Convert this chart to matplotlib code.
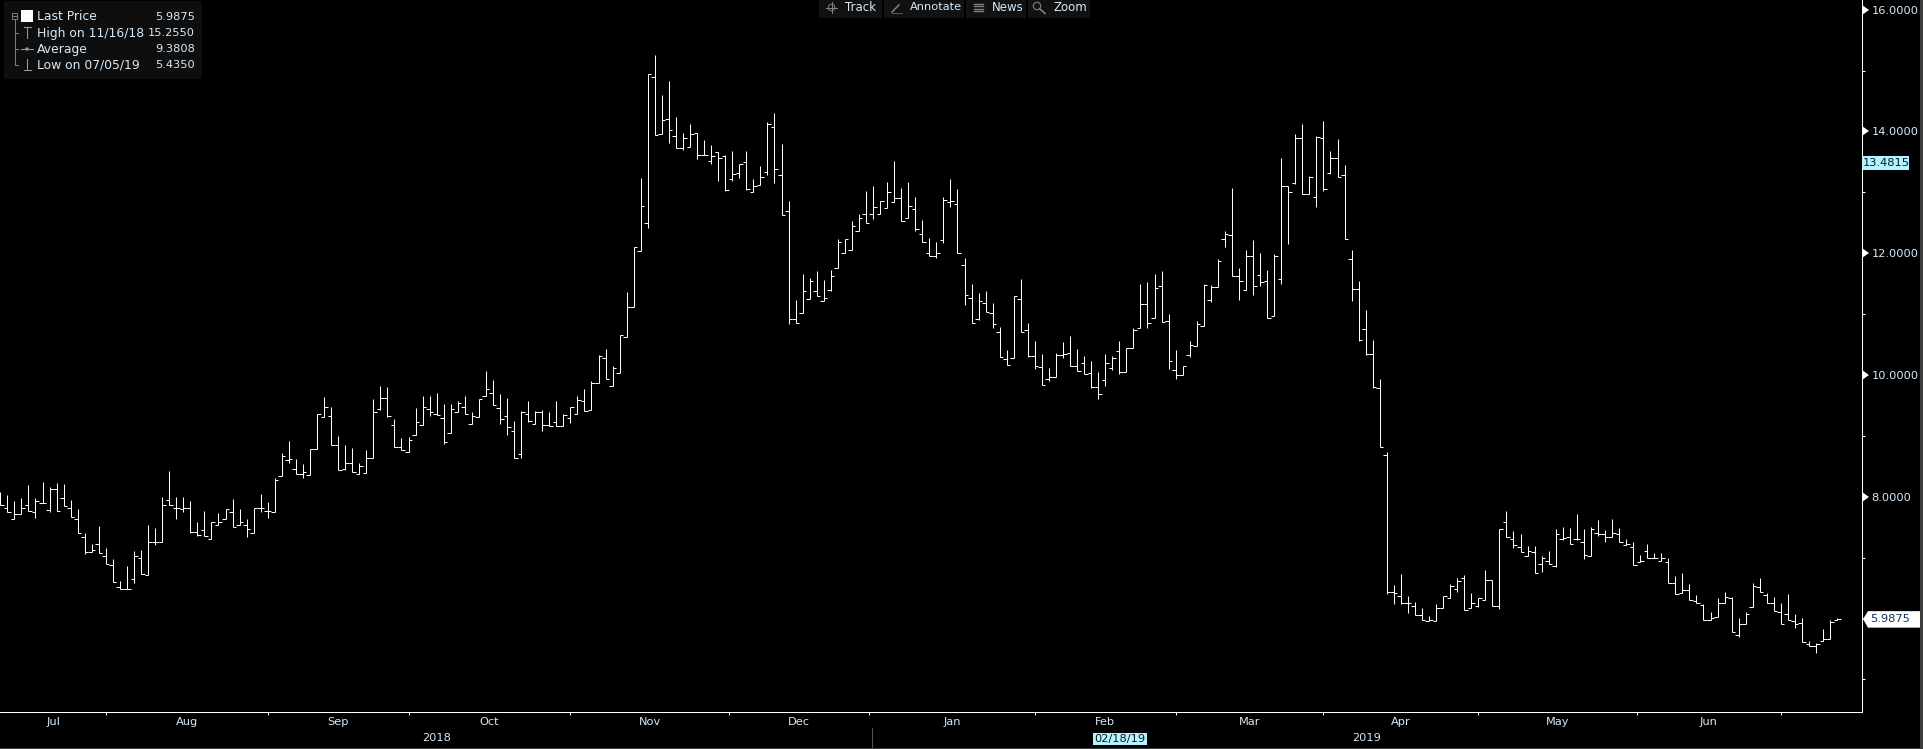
import matplotlib
matplotlib.use("Agg")
import matplotlib.pyplot as plt
import matplotlib.transforms as mtrans
from matplotlib.collections import LineCollection
from matplotlib.lines import Line2D
from matplotlib.patches import Polygon, Rectangle, FancyBboxPatch, Circle

# ---------- data ----------
highs = [8.07,8.03,7.93,7.98,8.19,7.98,8.24,8.15,8.22,8.21,7.95,7.79,7.40,7.23,7.52,7.15,6.97,6.62,6.86,7.10,
7.13,7.53,7.48,7.99,8.42,7.99,7.99,7.92,7.58,7.76,7.59,7.73,7.79,7.96,7.80,7.64,7.82,8.04,7.91,8.31,
8.71,8.91,8.61,8.54,8.79,9.36,9.64,9.47,8.99,8.85,8.80,8.55,8.77,9.60,9.82,9.80,9.27,8.96,8.98,9.46,
9.65,9.65,9.70,9.52,9.52,9.57,9.65,9.39,9.60,10.06,9.91,9.69,9.62,9.24,9.40,9.57,9.40,9.42,9.39,9.57,
9.35,9.48,9.65,9.77,9.90,10.32,10.42,10.15,10.65,11.36,12.10,13.24,14.94,15.255,14.60,14.83,14.24,13.97,14.12,13.97,
13.86,13.77,13.66,13.62,13.68,13.47,13.68,13.21,13.43,14.15,14.30,13.79,12.86,11.23,11.66,11.59,11.71,11.56,11.72,12.24,
12.23,12.52,12.64,13.02,13.10,12.86,13.17,13.51,13.07,13.17,12.92,12.54,12.25,12.18,12.92,13.22,13.05,11.92,11.50,11.35,
11.38,11.18,10.79,10.41,11.29,11.57,10.85,10.56,10.34,10.11,10.36,10.54,10.64,10.43,10.31,10.23,10.05,10.34,10.31,10.56,
10.44,10.77,11.49,11.53,11.65,11.71,11.00,10.41,10.14,10.56,10.88,11.49,11.47,11.91,12.36,13.07,11.75,12.05,12.22,12.00,
11.72,11.98,13.56,13.11,13.96,14.12,13.26,13.92,14.17,13.68,13.87,13.45,12.05,11.55,11.07,10.57,9.94,8.73,6.55,6.73,
6.37,6.27,6.17,6.04,6.24,6.36,6.56,6.66,6.71,6.41,6.33,6.80,6.63,7.46,7.76,7.44,7.39,7.19,7.19,7.02,
7.11,7.46,7.50,7.49,7.71,7.47,7.50,7.62,7.45,7.63,7.49,7.30,7.25,7.04,7.22,7.07,7.07,6.99,6.69,6.74,
6.56,6.38,6.23,6.10,6.33,6.43,6.35,6.01,6.10,6.58,6.66,6.41,6.35,6.25,6.40,6.07,6.00,5.63,5.60,5.82,
5.97,6.00]
lows = [7.86,7.74,7.64,7.71,7.77,7.65,7.89,7.74,7.77,7.85,7.66,7.41,7.05,7.09,7.07,6.89,6.59,6.49,6.49,6.58,
6.73,6.71,7.20,7.25,7.86,7.63,7.75,7.41,7.36,7.36,7.30,7.53,7.63,7.50,7.53,7.34,7.41,7.74,7.65,7.75,
8.34,8.56,8.37,8.30,8.35,8.78,9.30,8.85,8.43,8.44,8.41,8.37,8.38,8.63,9.42,9.30,8.82,8.76,8.74,9.01,
9.17,9.32,9.34,8.87,9.04,9.39,9.35,9.20,9.30,9.66,9.50,9.20,9.02,8.63,8.64,9.22,9.19,9.07,9.16,9.16,
9.16,9.21,9.35,9.40,9.42,9.86,9.93,9.81,10.03,10.62,11.11,12.03,12.41,13.94,13.95,13.81,13.72,13.69,13.74,13.54,
13.61,13.47,13.19,13.02,13.19,13.24,13.04,13.00,13.12,13.29,13.15,12.62,10.84,10.86,11.01,11.24,11.29,11.21,11.37,11.75,
12.01,12.05,12.36,12.49,12.56,12.64,12.74,12.84,12.52,12.57,12.37,12.18,11.95,11.92,12.17,12.75,12.01,11.14,10.86,10.90,
11.04,10.77,10.30,10.16,10.27,10.71,10.30,10.10,9.83,9.90,9.96,10.28,10.14,10.07,10.01,9.78,9.61,9.81,10.08,10.02,
10.04,10.44,10.77,10.77,10.94,10.87,10.10,9.93,10.00,10.30,10.47,10.81,11.19,11.44,12.10,11.62,11.23,11.39,11.31,11.46,
10.94,10.96,11.49,12.15,13.13,12.97,12.97,12.76,13.02,13.30,13.25,12.23,11.22,10.55,10.32,9.78,8.81,6.40,6.24,6.23,
6.09,6.05,5.98,5.95,5.95,6.17,6.33,6.43,6.13,6.17,6.19,6.30,6.21,6.16,7.33,7.16,7.09,7.02,6.74,6.77,
6.89,6.85,7.29,7.22,7.28,6.97,7.02,7.35,7.25,7.33,7.25,7.20,6.87,6.93,6.99,6.99,6.94,6.58,6.40,6.42,
6.30,6.26,5.98,5.98,6.03,6.25,5.77,5.70,5.90,6.18,6.43,6.25,6.12,5.90,5.97,5.84,5.61,5.55,5.435,5.63,
5.66,5.98]
opens = [7.99,7.82,7.64,7.71,7.87,7.75,7.89,7.78,8.13,7.97,7.81,7.63,7.33,7.09,7.23,7.03,6.87,6.51,6.49,6.64,
6.99,6.71,7.25,7.25,7.94,7.82,7.79,7.82,7.42,7.45,7.30,7.53,7.63,7.75,7.53,7.53,7.41,7.82,7.77,7.75,
8.34,8.60,8.45,8.37,8.35,8.78,9.30,9.32,8.84,8.45,8.55,8.37,8.38,8.63,9.44,9.62,9.17,8.82,8.74,9.01,
9.17,9.44,9.35,9.29,9.04,9.39,9.47,9.20,9.30,9.66,9.71,9.45,9.32,9.07,8.70,9.35,9.19,9.39,9.17,9.22,
9.16,9.29,9.35,9.57,9.42,9.86,10.27,9.81,10.03,10.62,11.11,12.03,12.49,14.90,13.95,14.21,13.92,13.72,13.74,13.97,
13.62,13.52,13.66,13.59,13.21,13.31,13.49,13.00,13.12,13.34,14.08,13.28,12.69,10.91,11.01,11.24,11.37,11.21,11.39,11.75,
12.01,12.05,12.36,12.65,12.65,12.64,12.74,12.84,12.90,12.57,12.72,12.31,12.01,11.95,12.21,12.84,12.80,11.80,11.27,10.92,
11.18,11.01,10.70,10.26,10.27,11.24,10.73,10.31,10.13,9.94,9.96,10.32,10.36,10.14,10.19,10.03,9.80,9.91,10.11,10.39,
10.04,10.44,10.77,11.16,10.94,11.46,10.88,10.08,10.00,10.33,10.47,10.81,11.23,11.44,12.23,12.29,11.62,11.39,11.95,11.64,
11.55,10.96,11.57,13.11,13.15,13.89,12.97,12.92,13.89,13.31,13.57,13.28,11.90,11.41,10.75,10.34,9.78,8.68,6.44,6.36,
6.25,6.21,6.05,5.95,5.95,6.17,6.33,6.48,6.66,6.17,6.21,6.30,6.63,6.21,7.58,7.30,7.18,7.02,7.09,6.89,
6.95,6.86,7.30,7.33,7.30,7.25,7.02,7.40,7.38,7.33,7.38,7.20,7.17,6.93,7.10,6.99,6.95,6.92,6.58,6.42,
6.46,6.28,6.22,5.98,6.03,6.25,6.33,5.72,5.90,6.18,6.51,6.38,6.25,6.10,6.07,5.95,5.92,5.58,5.55,5.63,
5.66,5.98]
closes = [7.86,7.75,7.71,7.82,7.77,7.92,7.89,8.13,7.77,7.85,7.66,7.41,7.09,7.13,7.07,6.89,6.59,6.49,6.49,7.02,
6.73,7.25,7.25,7.86,7.86,7.82,7.82,7.42,7.37,7.36,7.58,7.59,7.79,7.50,7.58,7.46,7.82,7.81,7.77,8.28,
8.66,8.62,8.37,8.40,8.78,9.36,9.48,8.85,8.43,8.55,8.41,8.50,8.63,9.39,9.62,9.32,8.82,8.76,8.93,9.22,
9.48,9.39,9.34,8.89,9.44,9.53,9.35,9.32,9.60,9.76,9.50,9.27,9.14,8.63,9.39,9.24,9.39,9.17,9.16,9.16,
9.34,9.47,9.58,9.40,9.86,10.31,9.93,10.11,10.65,11.11,12.10,12.77,14.94,13.94,14.18,14.03,13.72,13.89,13.95,13.62,
13.61,13.59,13.56,13.04,13.30,13.46,13.06,13.11,13.25,14.12,13.38,12.62,10.91,10.86,11.37,11.54,11.29,11.27,11.62,12.18,
12.23,12.44,12.57,12.49,12.75,12.86,13.00,12.90,12.52,12.77,12.39,12.18,11.95,12.01,12.88,12.85,12.01,11.32,10.86,11.22,
11.04,10.83,10.30,10.16,11.29,10.71,10.31,10.14,9.83,9.96,10.32,10.34,10.14,10.07,10.01,9.80,9.68,10.19,10.27,10.04,
10.44,10.73,11.16,10.85,11.42,10.87,10.22,10.00,10.14,10.49,10.83,11.47,11.44,11.87,12.31,11.62,11.55,11.95,11.46,11.52,
10.94,11.96,13.10,13.00,13.89,12.97,13.25,13.90,13.05,13.57,13.25,12.23,11.41,10.57,10.34,9.80,8.82,6.44,6.41,6.25,
6.25,6.05,5.98,5.98,6.17,6.36,6.54,6.61,6.13,6.25,6.33,6.63,6.21,7.46,7.33,7.20,7.09,7.10,6.74,6.99,
6.89,7.38,7.32,7.22,7.30,7.04,7.46,7.38,7.33,7.40,7.25,7.23,6.88,6.94,6.99,7.00,7.00,6.58,6.40,6.46,
6.30,6.26,5.98,6.00,6.25,6.35,5.77,5.90,6.08,6.54,6.44,6.25,6.12,5.90,5.97,5.90,5.61,5.55,5.58,5.66,
5.94,5.9875]

month_names = ["Jul","Aug","Sep","Oct","Nov","Dec","Jan","Feb","Mar","Apr","May","Jun"]
month_bounds = [0,15,38,58,81,103.5,123.5,147,167,188,210,232.5,253]
major_ticks = [16,14,12,10,8]
minor_ticks = [15,13,11,9,7,6,5]
last_price = 5.9875
crosshair_price = 13.4815
legend_rows = [("Last Price","5.9875"),("High on 11/16/18","15.2550"),("Average","9.3808"),("Low on 07/05/19","5.4350")]
toolbar = [("Track",819,882,845),("Annotate",884,964,910),("News",966,1026,992),("Zoom",1028,1090,1054)]

# ---------- figure ----------
W, H = 1924, 749
plt.rcParams["font.family"] = ["DejaVu Sans"]
TXT = "#d6e9f8"
FS = 8.2
FS_NAME = 8.9
fig = plt.figure(figsize=(W/100, H/100), dpi=100, facecolor="black")
AX_R, AX_B = 1861.7, 712.3
ax = fig.add_axes([0, 1-AX_B/H, AX_R/W, AX_B/H], facecolor="black")
ax.set_xlim(-0.043, 264.48)
ax.set_ylim(4.457, 16.1585)
PX = mtrans.Affine2D().scale(1, -1).translate(0, H)   # image pixels, y down

for s in ("top", "left"):
    ax.spines[s].set_visible(False)
for s in ("right", "bottom"):
    ax.spines[s].set_color("white")
    ax.spines[s].set_linewidth(0.75)

# bars
segs, n = [], len(highs)
for i in range(n):
    segs.append([(i, lows[i]), (i, highs[i])])
    segs.append([(i-0.5, opens[i]), (i, opens[i])])
    segs.append([(i, closes[i]), (i+0.5, closes[i])])
bars = LineCollection(segs, colors="white", linewidths=0.72, antialiaseds=True, capstyle="butt")
bars.set_snap(True)
ax.add_collection(bars)

# y axis
ax.yaxis.tick_right()
ax.set_yticks(minor_ticks, minor=True)
ax.set_yticks(major_ticks)
ax.set_yticklabels([f"{v:.4f}" for v in major_ticks], color=TXT, fontsize=FS)
ax.tick_params(axis="y", which="major", length=0, pad=7)
ax.tick_params(axis="y", which="minor", length=2.4, width=0.72, color="white")
trans_y = ax.get_yaxis_transform()
for v in major_ticks:
    ax.plot([1], [v], marker=9, ms=6.5, color="white", mew=0, clip_on=False, transform=trans_y, zorder=5)

# x axis
ax.set_xticks(month_bounds[1:])
ax.set_xticklabels([])
ax.tick_params(axis="x", length=2.4, width=0.72, color="white", direction="out")
trans_x = mtrans.blended_transform_factory(ax.transData, PX)
for k, name in enumerate(month_names):
    mid = (month_bounds[k] + month_bounds[k+1]) / 2
    ax.text(mid, 722, name, transform=trans_x, ha="center", va="center", color=TXT, fontsize=FS, clip_on=False)
ax.text(62, 738, "2018", transform=trans_x, ha="center", va="center", color=TXT, fontsize=FS, clip_on=False)
ax.text(194.2, 738, "2019", transform=trans_x, ha="center", va="center", color=TXT, fontsize=FS, clip_on=False)
ax.text(159.1, 739, "02/18/19", transform=trans_x, ha="center", va="center", color="#0b1620", fontsize=FS, clip_on=False,
        zorder=6, bbox=dict(boxstyle="square,pad=0.12", fc="#b4f4ff", ec="none"))
ax.plot([123.9, 123.9], [728, 747], transform=trans_x, color="#555555", lw=0.8, clip_on=False)

# chrome helpers
def rect(x0, y0, x1, y1, c, z=4):
    fig.add_artist(Rectangle((x0, y0), x1-x0, y1-y0, transform=PX, fc=c, ec="none", zorder=z))
def line(xs, ys, c="#777777", lw=0.75, z=6):
    fig.add_artist(Line2D(xs, ys, transform=PX, color=c, lw=lw, zorder=z))
def label(x, y, s, c=TXT, ha="left", z=7, fs=FS):
    fig.text(x, y, s, transform=PX, color=c, fontsize=fs, ha=ha, va="center", zorder=z)

# frame strips
rect(1920, 0, 1924, 749, "#3c3c3c")
rect(0, 748, 1924, 749, "#3c3c3c")

# price boxes on the axis
def price_y(v):
    return H - ax.transData.transform((0, v))[1]
yl = price_y(last_price)
fig.add_artist(Polygon([(1863, yl), (1868, yl-8), (1920, yl-8), (1920, yl+8.5), (1868, yl+8.5)],
                       transform=PX, fc="white", ec="none", zorder=6))
label(1870, yl, f"{last_price:.4f}", c="#12325a")
yc = price_y(crosshair_price)
rect(1862, yc-7, 1909, yc+7, "#b4f4ff", z=6)
label(1863, yc, f"{crosshair_price:.4f}", c="#0b1620")

# legend panel
fig.add_artist(FancyBboxPatch((6, 3), 194, 74, boxstyle="round,pad=2", transform=PX, fc="#0e0e0e", ec="none", zorder=4))
rect(21, 10, 33, 22, "white", z=6)
rows_y = [17, 33, 49, 65]
for (name, val), y in zip(legend_rows, rows_y):
    label(37, y, name, fs=FS_NAME)
    label(195, y, val, ha="right")
gy = "#7a7a7a"
fig.add_artist(Rectangle((12, 13), 5, 6, transform=PX, fc="none", ec=gy, lw=0.7, zorder=6))
line([13, 16], [16, 16], gy)
line([14.5, 14.5], [19, 65], gy)
for y in rows_y[1:]:
    line([14.5, 18], [y, y], gy)
line([27, 27], [27, 38], "#999999"); line([24, 31], [27, 27], "#999999")
line([21, 33], [49, 49], "#999999")
fig.add_artist(Circle((27, 49), 1.7, transform=PX, fc="#999999", ec="none", zorder=6))
line([27, 27], [59, 70], "#999999"); line([24, 31], [70, 70], "#999999")

# toolbar
for name, x0, x1, xt in toolbar:
    rect(x0, 0, x1, 17.5, "#111111")
    label(xt, 7.5, name, fs=8.5 if name != "Annotate" else 8.2)
c0 = "#7f7f7f"
fig.add_artist(Circle((831.5, 7.5), 3.3, transform=PX, fc="none", ec=c0, lw=0.7, zorder=6))
line([826, 837], [7.5, 7.5], c0); line([831.5, 831.5], [2, 13], c0)
line([892, 899], [12, 5], c0, lw=1.1); line([892, 902], [12.5, 12.5], "#555555")
for y in (3.5, 6, 8.5, 11):
    line([974, 983], [y, y], c0, lw=1.0)
fig.add_artist(Circle((1037, 6), 3.7, transform=PX, fc="none", ec=c0, lw=0.8, zorder=6))
line([1040, 1045], [9, 13.5], c0, lw=1.2)

fig.savefig("out.png", dpi=100, facecolor="black")
